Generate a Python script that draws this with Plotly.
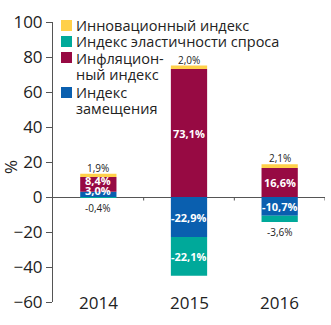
import plotly.graph_objects as go

years = ["2014", "2015", "2016"]
substitution = [3.0, -22.9, -10.7]
inflation = [8.4, 73.1, 16.6]
elasticity = [-0.4, -22.1, -3.6]
innovation = [1.9, 2.0, 2.1]
y_ticks = [-60, -40, -20, 0, 20, 40, 60, 80, 100]

names = {
    "sub": "Индекс<br>замещения",
    "inf": "Инфляцион-<br>ный индекс",
    "ela": "Индекс эластичности спроса",
    "inn": "Инновационный индекс",
}
colors = {"sub": "#0A5FAF", "inf": "#970A43", "ela": "#00A99A", "inn": "#FFD04A"}

FONT = "Open Sans"
W, H = 331, 325
ML, MR, MT, MB = 53, 6, 22, 23
PW, PH = W - ML - MR, H - MT - MB

def px_x(x):
    return (x - ML) / PW

def px_y(y):
    return 1 - (y - MT) / PH

series = [("sub", substitution), ("inf", inflation), ("ela", elasticity), ("inn", innovation)]

fig = go.Figure()
for key, vals in series:
    fig.add_trace(go.Bar(x=years, y=vals, name=names[key].replace("<br>", " "),
                         marker_color=colors[key], marker_line_width=0, showlegend=False))

def fmt(v):
    return f"{v:.1f}%".replace(".", ",")

ann = []
shapes = []
for i, yr in enumerate(years):
    pos = 0.0
    neg = 0.0
    for key, vals in series:
        v = vals[i]
        if v >= 0:
            lo, hi = pos, pos + v
            pos = hi
        else:
            hi, lo = neg, neg + v
            neg = lo
        inside = key in ("sub", "inf") or (key == "ela" and abs(v) >= 5)
        if inside:
            ann.append(dict(x=i, y=(lo + hi) / 2, text="<b>" + fmt(v) + "</b>", showarrow=False,
                            yshift=4 if abs(v) < 10 else 0,
                            font=dict(color="white", size=11, family=FONT)))
        elif v >= 0:
            ann.append(dict(x=i, y=hi, text=fmt(v), showarrow=False, yanchor="bottom", yshift=-3,
                            font=dict(color="#222", size=10, family=FONT)))
        else:
            ann.append(dict(x=i, y=lo, text=fmt(v), showarrow=False, yanchor="top", yshift=-1,
                            font=dict(color="#222", size=10, family=FONT)))
    ann.append(dict(x=i, y=-60, text=yr, showarrow=False, yanchor="middle",
                    font=dict(color="#222", size=17, family=FONT)))
    # category boundary tick on the zero line
    shapes.append(dict(type="line", xref="x", yref="y", x0=i + 0.5, x1=i + 0.5, y0=0, y1=-2,
                       line=dict(color="#555", width=1)))

# y axis title
ann.append(dict(xref="paper", yref="paper", x=px_x(10), y=px_y(167), text="%", textangle=-90,
                xanchor="center", yanchor="middle",
                showarrow=False, font=dict(color="#222", size=17, family=FONT)))

# custom legend (top to bottom)
legend_rows = [("inn", 20, [26]), ("ela", 36, [42]), ("inf", 52, [58, 74]), ("sub", 87, [92, 108])]
for key, sq_top, line_ys in legend_rows:
    shapes.append(dict(type="rect", xref="paper", yref="paper",
                       x0=px_x(61), x1=px_x(72), y0=px_y(sq_top + 11), y1=px_y(sq_top),
                       fillcolor=colors[key], line_width=0))
    for line, ly in zip(names[key].split("<br>"), line_ys):
        ann.append(dict(xref="paper", yref="paper", x=px_x(74), y=px_y(ly), text=line,
                        showarrow=False, xanchor="left", yanchor="middle",
                        font=dict(color="#222", size=14.5, family=FONT)))

fig.update_layout(
    width=W, height=H,
    margin=dict(l=ML, r=MR, t=MT, b=MB),
    barmode="relative", bargap=0.6,
    plot_bgcolor="white", paper_bgcolor="white",
    font=dict(family=FONT, color="#222"),
    showlegend=False,
    annotations=ann, shapes=shapes,
    xaxis=dict(type="category", range=[-0.5, 2.5], showline=False, automargin=False,
               ticks="", showticklabels=False, showgrid=False, zeroline=False),
    yaxis=dict(range=[-60, 100], tickvals=y_ticks, automargin=False,
               showline=True, linecolor="#555", linewidth=1, ticks="outside", ticklen=6,
               tickcolor="#555", showgrid=False, zeroline=True, zerolinecolor="#555",
               zerolinewidth=1,
               tickfont=dict(size=17, family=FONT, color="#222")),
)
fig.write_html("out.html")
